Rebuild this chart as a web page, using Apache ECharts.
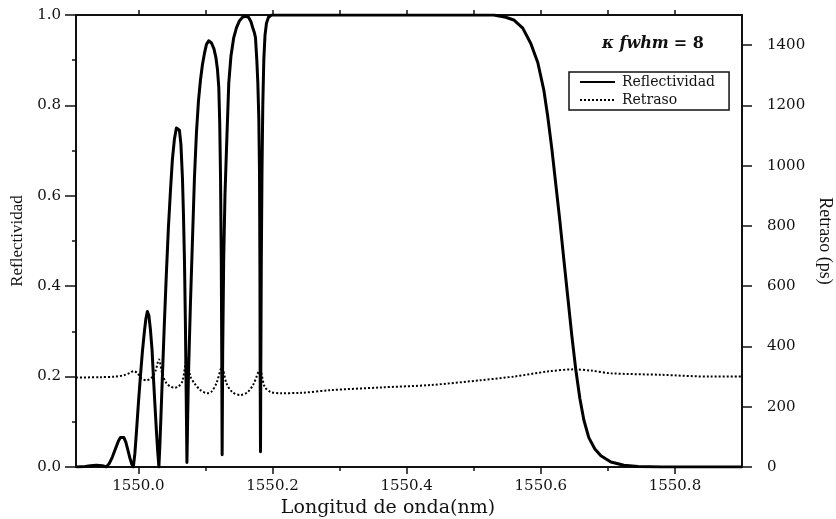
<!DOCTYPE html>
<html>
<head>
<meta charset="utf-8">
<script src="https://cdn.jsdelivr.net/npm/echarts@6/dist/echarts.min.js"></script>
<style>
html,body{margin:0;padding:0;background:#fff;}
#chart{width:836px;height:519px;}
</style>
</head>
<body>
<div id="chart"></div>
<script>
// ---- Data ----
const wavelengthR = [
  1549.9075, 1549.9209, 1549.9284, 1549.9373, 1549.9463,
  1549.9522, 1549.9567, 1549.9612, 1549.9657, 1549.9701, 1549.9731, 1549.9757, 1549.9784, 1549.9813, 1549.9843, 1549.9873, 1549.9903, 1549.9925,
  1549.9948, 1549.9970, 1550.0000, 1550.0030, 1550.0060, 1550.0090, 1550.0112, 1550.0134, 1550.0157, 1550.0179, 1550.0204, 1550.0224, 1550.0246, 1550.0269, 1550.0288, 1550.0306,
  1550.0321, 1550.0336, 1550.0358, 1550.0388, 1550.0418, 1550.0448, 1550.0478, 1550.0507, 1550.0537, 1550.0567, 1550.0590, 1550.0612, 1550.0634, 1550.0657, 1550.0672, 1550.0687, 1550.0701, 1550.0713, 1550.0724,
  1550.0734, 1550.0746, 1550.0776, 1550.0806, 1550.0836, 1550.0866, 1550.0896, 1550.0925, 1550.0955, 1550.0985, 1550.1015, 1550.1049, 1550.1090, 1550.1127, 1550.1157, 1550.1179, 1550.1199, 1550.1213, 1550.1225, 1550.1236, 1550.1243, 1550.1249,
  1550.1257, 1550.1272, 1550.1291, 1550.1313, 1550.1348, 1550.1381, 1550.1422, 1550.1463, 1550.1507, 1550.1552, 1550.1597, 1550.1642, 1550.1679, 1550.1709, 1550.1731, 1550.1746, 1550.1766, 1550.1781, 1550.1796, 1550.1806, 1550.1812, 1550.1816, 1550.1821,
  1550.1825, 1550.1833, 1550.1843, 1550.1855, 1550.1870, 1550.1888, 1550.1910, 1550.1940, 1550.1985,
  1550.5299, 1550.5478, 1550.5597, 1550.5731, 1550.5851, 1550.5955, 1550.6045, 1550.6104, 1550.6164, 1550.6224, 1550.6284, 1550.6343,
  1550.6403, 1550.6463, 1550.6522, 1550.6582, 1550.6642, 1550.6716, 1550.6806, 1550.6896, 1550.7045, 1550.7239, 1550.7448,
  1550.78, 1550.9
];
const reflectivity = [
  0, 0.001, 0.003, 0.004, 0.003,
  0, 0.008, 0.022, 0.04, 0.057, 0.065, 0.067, 0.065, 0.055, 0.038, 0.02, 0.006, 0,
  0.03, 0.075, 0.14, 0.2, 0.255, 0.3, 0.328, 0.344, 0.335, 0.305, 0.259, 0.2, 0.14, 0.08, 0.035, 0,
  0.05, 0.11, 0.2, 0.32, 0.43, 0.53, 0.61, 0.68, 0.725, 0.75, 0.753, 0.745, 0.715, 0.64, 0.56, 0.458, 0.32, 0.16, 0.01,
  0.1, 0.2, 0.36, 0.5, 0.64, 0.74, 0.81, 0.855, 0.89, 0.915, 0.935, 0.943, 0.938, 0.925, 0.905, 0.88, 0.84, 0.76, 0.64, 0.46, 0.25, 0.027,
  0.25, 0.458, 0.6, 0.70, 0.85, 0.91, 0.95, 0.972, 0.987, 0.995, 0.997, 0.995, 0.985, 0.97, 0.96, 0.95, 0.9, 0.85, 0.77, 0.65, 0.45, 0.2, 0.034,
  0.2, 0.458, 0.65, 0.8, 0.9, 0.955, 0.982, 0.995, 1.0,
  1.0, 0.995, 0.989, 0.971, 0.937, 0.895, 0.834, 0.775, 0.705, 0.625, 0.545, 0.46,
  0.375, 0.29, 0.215, 0.152, 0.104, 0.065, 0.04, 0.025, 0.011, 0.004, 0.001,
  0, 0
];
const wavelengthD = [
  1549.907, 1549.9433, 1549.9657, 1549.9791, 1549.9881, 1549.9925, 1549.9985, 1550.0045, 1550.0119, 1550.0194,
  1550.0254, 1550.0306, 1550.0358, 1550.0418, 1550.0478, 1550.0537, 1550.0597, 1550.0657, 1550.0724, 1550.0776,
  1550.0836, 1550.0925, 1550.1025, 1550.109, 1550.1164, 1550.1246, 1550.1313, 1550.1403, 1550.1522, 1550.1627,
  1550.1716, 1550.1813, 1550.1881, 1550.197, 1550.2119, 1550.2418, 1550.2866, 1550.3612, 1550.4358, 1550.5104,
  1550.5597, 1550.6104, 1550.6493, 1550.6746, 1550.7045, 1550.7791, 1550.8537, 1550.9
];
const delayPs = [
  297, 298, 300, 305, 313, 318, 312, 294, 288, 296,
  318, 357, 308, 278, 267, 263, 267, 285, 360, 300,
  278, 255, 245, 250, 278, 330, 278, 248, 239, 248,
  275, 322, 267, 249, 245, 246, 255, 264, 272, 288,
  300, 317, 324, 320, 311, 306, 300, 300
];
const xLabelTicks = [1550.0, 1550.2, 1550.4, 1550.6, 1550.8];
const xMinorTicks = [1550.1, 1550.3, 1550.5, 1550.7];
const xTopTicks = [1550.0, 1550.1, 1550.2, 1550.3, 1550.4, 1550.5, 1550.6, 1550.7, 1550.8];
const rightTicks = [0, 200, 400, 600, 800, 1000, 1200, 1400];
const seriesNames = ['Reflectividad', 'Retraso'];

const X_MIN = 1549.907, X_MAX = 1550.9;
const FONT = '"DejaVu Serif", "Liberation Serif", serif';
const TFONT = '"Liberation Serif", "DejaVu Serif", serif';
const INK = '#111';

const reflData = wavelengthR.map((x, i) => [x, reflectivity[i]]);
const delayData = wavelengthD.map((x, i) => [x, delayPs[i]]);

const chart = echarts.init(document.getElementById('chart'), null, {renderer: 'canvas'});
const gridRect = {left: 76, right: 94, top: 15, bottom: 52, containLabel: false, outerBoundsMode: 'none'};

chart.setOption({
  backgroundColor: '#fff',
  animation: false,
  title: {
    left: 597, top: 30,
    text: '{i|κ fwhm} {n|= 8}',
    textStyle: {
      rich: {
        i: {fontFamily: FONT, fontStyle: 'italic', fontWeight: 'bold', fontSize: 16, color: INK},
        n: {fontFamily: FONT, fontWeight: 'bold', fontSize: 16, color: INK}
      }
    }
  },
  legend: {
    orient: 'vertical',
    left: 569, top: 72,
    padding: [3, 14, 3, 10],
    borderColor: INK, borderWidth: 1.5, borderRadius: 0,
    itemWidth: 35, itemHeight: 1, itemGap: 4,
    itemStyle: {color: 'rgba(0,0,0,0)', borderWidth: 0, opacity: 0},
    data: seriesNames,
    textStyle: {fontFamily: FONT, fontSize: 14, color: INK, padding: [0, 0, 0, 2]}
  },
  grid: [
    Object.assign({}, gridRect),
    Object.assign({}, gridRect)
  ],
  xAxis: [
    {
      type: 'value', gridIndex: 0, position: 'bottom', min: X_MIN, max: X_MAX,
      name: 'Longitud de onda(nm)', nameLocation: 'middle', nameGap: 21,
      nameTextStyle: {fontFamily: FONT, fontSize: 19, color: INK, padding: [0, 42, 0, 0]},
      axisLine: {show: true, onZero: false, lineStyle: {color: INK, width: 2}},
      axisTick: {show: true, customValues: xLabelTicks, length: 7, lineStyle: {color: INK, width: 1.5}},
      axisLabel: {show: true, customValues: xLabelTicks, margin: 12, fontFamily: FONT, fontSize: 15, color: INK,
        formatter: v => Number(v).toFixed(1)},
      splitLine: {show: false}
    },
    {
      type: 'value', gridIndex: 0, position: 'top', min: X_MIN, max: X_MAX,
      axisLine: {show: true, onZero: false, lineStyle: {color: INK, width: 2}},
      axisTick: {show: true, customValues: xTopTicks, length: 5, lineStyle: {color: INK, width: 1.5}},
      axisLabel: {show: false},
      splitLine: {show: false}
    },
    {
      type: 'value', gridIndex: 1, position: 'bottom', min: X_MIN, max: X_MAX,
      axisLine: {show: false, onZero: false},
      axisTick: {show: true, customValues: xMinorTicks, length: 4, lineStyle: {color: INK, width: 1.5}},
      axisLabel: {show: false},
      splitLine: {show: false}
    }
  ],
  yAxis: [
    {
      type: 'value', gridIndex: 0, position: 'left', min: 0, max: 1, interval: 0.2,
      name: 'Reflectividad', nameLocation: 'middle', nameGap: 48,
      nameTextStyle: {fontFamily: TFONT, fontSize: 17, color: INK},
      axisLine: {show: true, lineStyle: {color: INK, width: 2}},
      axisTick: {show: true, length: 11, lineStyle: {color: INK, width: 1.5}},
      minorTick: {show: true, splitNumber: 2, length: 4, lineStyle: {color: INK, width: 1.5}},
      axisLabel: {margin: 15, fontFamily: FONT, fontSize: 15, color: INK, formatter: v => Number(v).toFixed(1)},
      splitLine: {show: false}, minorSplitLine: {show: false}
    },
    {
      type: 'value', gridIndex: 0, position: 'right', min: 0, max: 1500,
      name: 'Retraso (ps)', nameLocation: 'middle', nameGap: 68, nameRotate: -90,
      nameTextStyle: {fontFamily: TFONT, fontSize: 18, color: INK},
      axisLine: {show: true, lineStyle: {color: INK, width: 2}},
      axisTick: {show: true, customValues: rightTicks, length: 10, lineStyle: {color: INK, width: 1.5}},
      axisLabel: {customValues: rightTicks, margin: 25, fontFamily: FONT, fontSize: 15, color: INK,
        formatter: v => String(Math.round(v))},
      splitLine: {show: false}
    },
    {
      type: 'value', gridIndex: 1, min: 0, max: 1,
      axisLine: {show: false}, axisTick: {show: false}, axisLabel: {show: false}, splitLine: {show: false}
    }
  ],
  series: [
    {
      name: seriesNames[0], type: 'line', xAxisIndex: 0, yAxisIndex: 0,
      data: reflData, showSymbol: false, symbol: 'none', smooth: false,
      lineStyle: {color: '#000', width: 3, join: 'round'}, itemStyle: {color: '#000'}, z: 3
    },
    {
      name: seriesNames[1], type: 'line', xAxisIndex: 0, yAxisIndex: 1,
      data: delayData, showSymbol: false, symbol: 'none', smooth: 0.3,
      lineStyle: {color: '#000', width: 2, type: [2, 2]}, itemStyle: {color: '#000'}, z: 2
    }
  ]
});
</script>
</body>
</html>
